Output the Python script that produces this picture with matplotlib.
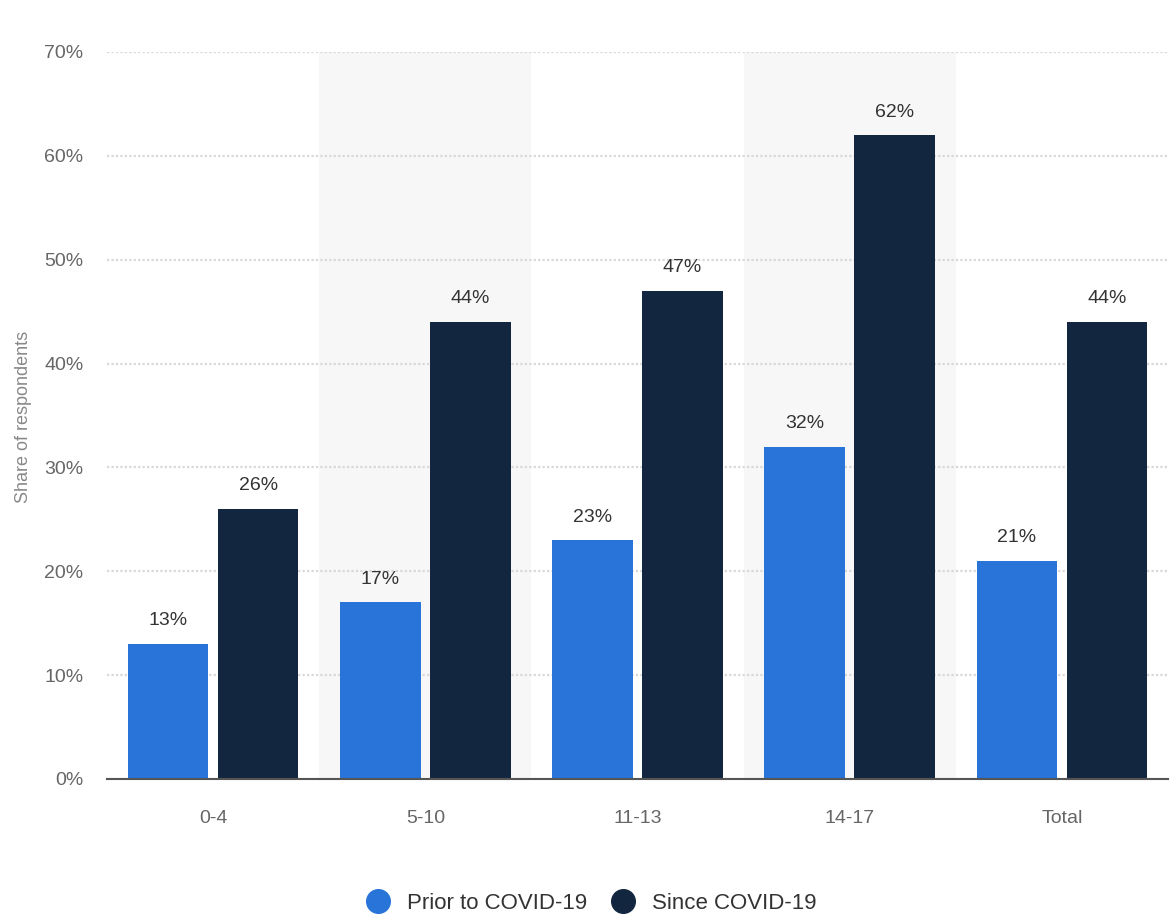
import numpy as np
import matplotlib.pyplot as plt
from matplotlib.lines import Line2D

plt.rcParams['font.family'] = ['Liberation Sans', 'DejaVu Sans']

# data
categories = ['0-4', '5-10', '11-13', '14-17', 'Total']
prior = [13, 17, 23, 32, 21]
since = [26, 44, 47, 62, 44]
series_names = ['Prior to COVID-19', 'Since COVID-19']

blue = '#2874d9'
navy = '#12263f'

fig = plt.figure(figsize=(11.72, 9.17), dpi=100)
ax = fig.add_axes([0.0913, 0.1505, 0.9053, 0.7928])

x = np.arange(len(categories))
w = 0.38
off = 0.212

# alternating shaded bands
for i in x:
    if i % 2 == 1:
        ax.axvspan(i - 0.5, i + 0.5, color='#f7f7f7', zorder=0, lw=0)

b1 = ax.bar(x - off, prior, w, color=blue, zorder=3)
b2 = ax.bar(x + off, since, w, color=navy, zorder=3)

for bars, vals in ((b1, prior), (b2, since)):
    for b, v in zip(bars, vals):
        ax.text(b.get_x() + b.get_width() / 2, v + 1.4, f'{v}%',
                ha='center', va='bottom', fontsize=14, color='#333333')

ax.set_xlim(-0.5, 4.5)
ax.set_ylim(0, 70)
ax.set_yticks(np.arange(0, 71, 10))
ax.set_yticklabels([f'{t}%' for t in range(0, 71, 10)])
ax.set_xticks(x)
ax.set_xticklabels(categories)
ax.tick_params(axis='both', length=0, labelsize=14, colors='#666666')
ax.tick_params(axis='x', pad=22)
ax.tick_params(axis='y', pad=17)

ax.yaxis.grid(True, color='#d8d8d8', linestyle=(0, (1, 1)), linewidth=1.6, zorder=1)
ax.set_axisbelow(True)
for s in ['top', 'right', 'left']:
    ax.spines[s].set_visible(False)
ax.spines['bottom'].set_color('#555555')
ax.spines['bottom'].set_linewidth(1.5)
ax.spines['bottom'].set_zorder(4)

fig.text(0.02, 0.545, 'Share of respondents', rotation=90, ha='center', va='center',
         fontsize=13, color='#888888')

handles = [Line2D([], [], marker='o', ls='', markersize=17, color=c) for c in (blue, navy)]
fig.legend(handles, series_names, loc='center', bbox_to_anchor=(0.5, 0.015),
           ncol=2, frameon=False, fontsize=16, handletextpad=0.3, columnspacing=0.6,
           labelcolor='#333333')

fig.savefig('out.png', dpi=100)
